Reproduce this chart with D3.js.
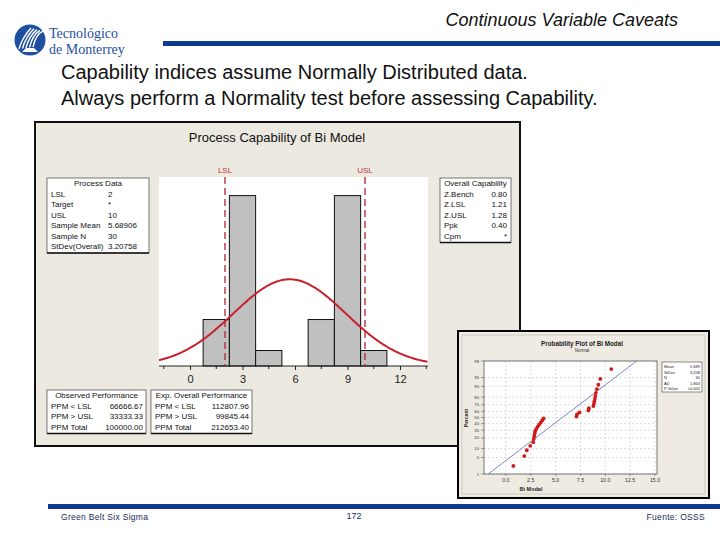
<!DOCTYPE html>
<html><head><meta charset="utf-8">
<script src="https://cdn.jsdelivr.net/npm/d3@7"></script>
<style>body{margin:0;background:#fff} svg{display:block}</style>
</head><body><svg id="c" width="720" height="540"></svg>
<script>
// ---------- data ----------
const values = [0.75,1.85,2.1,2.45,2.75,2.8,2.85,2.9,2.95,3.05,3.2,3.35,3.5,3.65,3.8,
                7.1,7.15,7.4,8.3,8.35,8.8,8.85,8.9,8.95,9.0,9.05,9.15,9.3,9.5,10.6];
const binEdges = [0.75,2.25,3.75,5.25,6.75,8.25,9.75,11.25];
const histTicks = [0,3,6,9,12];
const histMinorTicks = [-1.5,1.5,4.5,7.5,10.5,13.5];
const specLimits = [{name:"LSL", value:2},{name:"USL", value:10}];
const meanOverall = 5.68906, sdOverall = 3.20758, sampleN = 30;
const processData = [["LSL","2"],["Target","*"],["USL","10"],["Sample Mean","5.68906"],["Sample N","30"],["StDev(Overall)","3.20758"]];
const overallCap = [["Z.Bench","0.80"],["Z.LSL","1.21"],["Z.USL","1.28"],["Ppk","0.40"],["Cpm","*"]];
const observedPerf = [["PPM < LSL","66666.67"],["PPM > USL","33333.33"],["PPM Total","100000.00"]];
const expPerf = [["PPM < LSL","112807.96"],["PPM > USL","99845.44"],["PPM Total","212653.40"]];
const probTicksX = [0,2.5,5,7.5,10,12.5,15];
const probTickLabelsX = ["0.0","2.5","5.0","7.5","10.0","12.5","15.0"];
const probTicksY = [1,5,10,20,30,40,50,60,70,80,90,95,99];
const probStats = [["Mean","5.689"],["StDev","3.208"],["N","30"],["AD","1.863"],["P-Value","<0.005"]];
const probMean = 5.689, probSd = 3.208;

// ---------- helpers ----------
function qnorm(p){
  const a=[-3.969683028665376e+01,2.209460984245205e+02,-2.759285104469687e+02,1.383577518672690e+02,-3.066479806614716e+01,2.506628277459239e+00];
  const b=[-5.447609879822406e+01,1.615858368580409e+02,-1.556989798598866e+02,6.680131188771972e+01,-1.328068155288572e+01];
  const c=[-7.784894002430293e-03,-3.223964580411365e-01,-2.400758277161838e+00,-2.549732539343734e+00,4.374664141464968e+00,2.938163982698783e+00];
  const d=[7.784695709041462e-03,3.224671290700398e-01,2.445134137142996e+00,3.754408661907416e+00];
  const pl=0.02425; let q,r;
  if(p<pl){q=Math.sqrt(-2*Math.log(p));return (((((c[0]*q+c[1])*q+c[2])*q+c[3])*q+c[4])*q+c[5])/((((d[0]*q+d[1])*q+d[2])*q+d[3])*q+1);}
  if(p>1-pl){q=Math.sqrt(-2*Math.log(1-p));return -(((((c[0]*q+c[1])*q+c[2])*q+c[3])*q+c[4])*q+c[5])/((((d[0]*q+d[1])*q+d[2])*q+d[3])*q+1);}
  q=p-0.5;r=q*q;return (((((a[0]*r+a[1])*r+a[2])*r+a[3])*r+a[4])*r+a[5])*q/(((((b[0]*r+b[1])*r+b[2])*r+b[3])*r+b[4])*r+1);
}
const SANS = "Liberation Sans, Arial, sans-serif";
const svg = d3.select("#c");

// ---------- slide header ----------
svg.append("text").attr("x",678).attr("y",26).attr("text-anchor","end")
  .attr("font-family",SANS).attr("font-style","italic").attr("font-size",18).attr("fill","#111")
  .text("Continuous Variable Caveats");
svg.append("rect").attr("x",163).attr("y",41).attr("width",557).attr("height",5).attr("fill","#0d3a8e");

const logo = svg.append("g");
logo.append("circle").attr("cx",30).attr("cy",40).attr("r",15.5).attr("fill","#1f4f9f");
[0,1,2,3,4].forEach(i=>{
  logo.append("path").attr("d",`M${19+i*3.5},${49-i*0.5} Q${22+i*3.5},${38-i} ${31+i*3},${28+i*0.8}`)
    .attr("fill","none").attr("stroke","#fff").attr("stroke-width",1.4);
});
logo.append("path").attr("d","M22,52 L38,52 L34,48 L26,48 Z").attr("fill","#fff");
logo.append("text").attr("x",49).attr("y",38).attr("font-family","Liberation Serif, serif")
  .attr("font-size",14).attr("fill","#1f4f9f").text("Tecnológico");
logo.append("text").attr("x",49).attr("y",53.5).attr("font-family","Liberation Serif, serif")
  .attr("font-size",14).attr("fill","#1f4f9f").text("de Monterrey");

svg.append("text").attr("x",61).attr("y",79).attr("font-family",SANS).attr("font-size",20).attr("fill","#111")
  .text("Capability indices assume Normally Distributed data.");
svg.append("text").attr("x",61).attr("y",105).attr("font-family",SANS).attr("font-size",20).attr("fill","#111")
  .text("Always perform a Normality test before assessing Capability.");

// ---------- capability panel ----------
const panel = svg.append("g");
panel.append("rect").attr("x",35).attr("y",122).attr("width",485).attr("height",324)
  .attr("fill","#ece9e0").attr("stroke","#111").attr("stroke-width",2);
panel.append("text").attr("x",277).attr("y",142).attr("text-anchor","middle")
  .attr("font-family",SANS).attr("font-size",13).attr("fill","#111").text("Process Capability of Bi Model");

const px = d3.scaleLinear().domain([0,12]).range([190,400]);
const plotL = 159, plotR = 428, plotT = 177, plotB = 366;
const py = d3.scaleLinear().domain([0,12.2]).range([plotB,plotT]);
panel.append("rect").attr("x",plotL).attr("y",plotT).attr("width",plotR-plotL).attr("height",plotB-plotT).attr("fill","#fff");

const bins = d3.bin().domain([binEdges[0], binEdges[binEdges.length-1]]).thresholds(binEdges.slice(1,-1))(values);
panel.selectAll("rect.bar").data(bins.filter(b=>b.length>0)).join("rect").attr("class","bar")
  .attr("x",b=>px(b.x0)).attr("width",b=>px(b.x1)-px(b.x0))
  .attr("y",b=>py(b.length)).attr("height",b=>py(0)-py(b.length))
  .attr("fill","#c0c0c0").attr("stroke","#111").attr("stroke-width",1);

// axis
const xAxis = d3.axisBottom(px).tickValues(histTicks).tickSize(4).tickFormat(d3.format("d"));
const gx = panel.append("g").attr("transform",`translate(0,${plotB})`).call(xAxis);
gx.select(".domain").attr("d",`M${plotL},0H${plotR}`).attr("stroke","#222");
gx.selectAll(".tick line").attr("stroke","#222");
gx.selectAll(".tick text").attr("font-family",SANS).attr("font-size",11).attr("fill","#222").attr("dy","0.9em");
panel.append("g").selectAll("line").data(histMinorTicks.filter(t=>px(t)>plotL && px(t)<plotR)).join("line")
  .attr("x1",d=>px(d)).attr("x2",d=>px(d)).attr("y1",plotB).attr("y2",plotB+3).attr("stroke","#222");

// spec limits
specLimits.forEach(s=>{
  panel.append("line").attr("x1",px(s.value)).attr("x2",px(s.value)).attr("y1",plotT).attr("y2",plotB)
    .attr("stroke","#b0242c").attr("stroke-width",1.3).attr("stroke-dasharray","7,4");
  panel.append("text").attr("x",px(s.value)).attr("y",173).attr("text-anchor","middle")
    .attr("font-family",SANS).attr("font-size",8).attr("fill","#c0303a").text(s.name);
});

// normal curve
const xs = d3.range(px.invert(plotL), px.invert(plotR)+0.01, 0.05);
const binW = binEdges[1]-binEdges[0];
const pdf = x => Math.exp(-0.5*((x-meanOverall)/sdOverall)**2)/(sdOverall*Math.sqrt(2*Math.PI));
panel.append("path").datum(xs)
  .attr("d", d3.line().x(d=>px(d)).y(d=>py(sampleN*binW*pdf(d))))
  .attr("fill","none").attr("stroke","#c8202c").attr("stroke-width",2);

// info boxes
function infoBox(g, x, y, w, title, rows, valX, valAnchor){
  const rowH = 10.5, h = 8 + rowH*(rows.length) + 4;
  g.append("rect").attr("x",x).attr("y",y).attr("width",w).attr("height",h).attr("fill","#fff").attr("stroke","#555").attr("stroke-width",0.8);
  g.append("line").attr("x1",x).attr("x2",x+w).attr("y1",y+h).attr("y2",y+h).attr("stroke","#111").attr("stroke-width",1.5);
  g.append("text").attr("x",x+w/2).attr("y",y+8).attr("text-anchor","middle")
    .attr("font-family",SANS).attr("font-size",8).attr("fill","#111").text(title);
  rows.forEach((r,i)=>{
    const yy = y + 8 + rowH*(i+1);
    g.append("text").attr("x",x+4).attr("y",yy).attr("font-family",SANS).attr("font-size",8).attr("fill","#111").text(r[0]);
    g.append("text").attr("x",valX).attr("y",yy).attr("text-anchor",valAnchor).attr("font-family",SANS).attr("font-size",8).attr("fill","#111").text(r[1]);
  });
}
infoBox(panel, 47, 178, 102, "Process Data", processData, 108, "start");
infoBox(panel, 440, 178, 71, "Overall Capability", overallCap, 507, "end");
infoBox(panel, 47, 390, 99, "Observed Performance", observedPerf, 143, "end");
infoBox(panel, 151, 390, 101, "Exp. Overall Performance", expPerf, 249, "end");

// ---------- probability plot panel ----------
const pp = svg.append("g");
pp.append("rect").attr("x",458).attr("y",331).attr("width",251).attr("height",167)
  .attr("fill","#efebe3").attr("stroke","#000").attr("stroke-width",2);
pp.append("rect").attr("x",462).attr("y",335).attr("width",243).attr("height",159)
  .attr("fill","none").attr("stroke","#aaa").attr("stroke-width",0.5);
pp.append("text").attr("x",582).attr("y",346).attr("text-anchor","middle").attr("font-family",SANS)
  .attr("font-size",6.3).attr("font-weight","bold").attr("fill","#222").text("Probability Plot of Bi Modal");
pp.append("text").attr("x",582).attr("y",352).attr("text-anchor","middle").attr("font-family",SANS)
  .attr("font-size",4.5).attr("fill","#333").text("Normal");

const qx = d3.scaleLinear().domain([-2.2,15.2]).range([484,657]);
const qy = d3.scaleLinear().domain([qnorm(0.01), qnorm(0.99)]).range([474,361]);
pp.append("rect").attr("x",484).attr("y",361).attr("width",173).attr("height",113).attr("fill","#fff");
// grid
pp.append("g").selectAll("line").data(probTicksX).join("line")
  .attr("x1",d=>qx(d)).attr("x2",d=>qx(d)).attr("y1",361).attr("y2",474)
  .attr("stroke","#bbb").attr("stroke-width",0.5).attr("stroke-dasharray","2,2");
pp.append("g").selectAll("line").data(probTicksY).join("line")
  .attr("x1",484).attr("x2",657).attr("y1",d=>qy(qnorm(d/100))).attr("y2",d=>qy(qnorm(d/100)))
  .attr("stroke","#bbb").attr("stroke-width",0.5).attr("stroke-dasharray","2,2");
pp.append("rect").attr("x",484).attr("y",361).attr("width",173).attr("height",113).attr("fill","none").attr("stroke","#444").attr("stroke-width",0.7);
// tick labels
pp.append("g").selectAll("text").data(probTicksY).join("text")
  .attr("x",479).attr("y",d=>qy(qnorm(d/100))+1.5).attr("text-anchor","end")
  .attr("font-family",SANS).attr("font-size",4.2).attr("fill","#333").text(d=>d);
pp.append("g").selectAll("line").data(probTicksY).join("line")
  .attr("x1",481).attr("x2",484).attr("y1",d=>qy(qnorm(d/100))).attr("y2",d=>qy(qnorm(d/100))).attr("stroke","#444").attr("stroke-width",0.5);
pp.append("g").selectAll("text").data(probTicksX).join("text")
  .attr("x",d=>qx(d)).attr("y",482).attr("text-anchor","middle")
  .attr("font-family",SANS).attr("font-size",5.2).attr("fill","#333").text((d,i)=>probTickLabelsX[i]);
pp.append("g").selectAll("line").data(probTicksX).join("line")
  .attr("x1",d=>qx(d)).attr("x2",d=>qx(d)).attr("y1",474).attr("y2",476).attr("stroke","#444").attr("stroke-width",0.5);
pp.append("text").attr("x",531).attr("y",491).attr("text-anchor","middle").attr("font-family",SANS)
  .attr("font-size",5.5).attr("font-weight","bold").attr("fill","#222").text("Bi Modal");
pp.append("text").attr("transform","translate(468,418) rotate(-90)").attr("text-anchor","middle").attr("font-family",SANS)
  .attr("font-size",5).attr("font-weight","bold").attr("fill","#222").text("Percent");
// fit line
pp.append("line").attr("x1",qx(probMean+qnorm(0.01)*probSd)).attr("y1",qy(qnorm(0.01)))
  .attr("x2",qx(probMean+qnorm(0.99)*probSd)).attr("y2",qy(qnorm(0.99)))
  .attr("stroke","#5a6cb8").attr("stroke-width",0.8);
// points
const sorted = values.slice().sort((a,b)=>a-b);
const n = sorted.length;
pp.append("g").selectAll("circle").data(sorted).join("circle")
  .attr("cx",d=>qx(d)).attr("cy",(d,i)=>qy(qnorm((i+1-0.3)/(n+0.4))))
  .attr("r",1.9).attr("fill","#d01818");
// stats legend
pp.append("rect").attr("x",662).attr("y",362).attr("width",40).attr("height",30).attr("fill","#fff").attr("stroke","#444").attr("stroke-width",0.6);
probStats.forEach((r,i)=>{
  pp.append("text").attr("x",664).attr("y",368+i*5.5).attr("font-family",SANS).attr("font-size",4).attr("fill","#222").text(r[0]);
  pp.append("text").attr("x",700).attr("y",368+i*5.5).attr("text-anchor","end").attr("font-family",SANS).attr("font-size",4).attr("fill","#222").text(r[1]);
});

// ---------- footer ----------
svg.append("rect").attr("x",48).attr("y",504).attr("width",672).attr("height",5).attr("fill","#0d3a8e");
svg.append("text").attr("x",61).attr("y",520).attr("font-family",SANS).attr("font-size",8.5).attr("letter-spacing",0.3).attr("fill","#1c2a5a").text("Green Belt Six Sigma");
svg.append("text").attr("x",354).attr("y",519).attr("text-anchor","middle").attr("font-family",SANS).attr("font-size",9).attr("fill","#1c2a5a").text("172");
svg.append("text").attr("x",705).attr("y",520).attr("text-anchor","end").attr("font-family",SANS).attr("font-size",8.5).attr("letter-spacing",0.3).attr("fill","#1c2a5a").text("Fuente: OSSS");
</script></body></html>
